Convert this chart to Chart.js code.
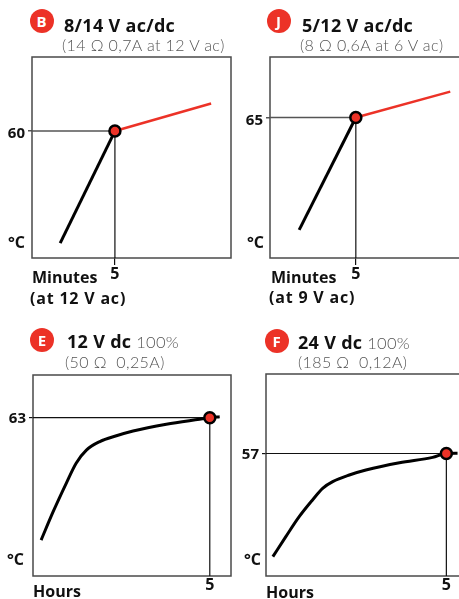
<!DOCTYPE html>
<html><head><meta charset="utf-8">
<script src="https://cdn.jsdelivr.net/npm/chart.js@4.4.0/dist/chart.umd.min.js"></script>
<style>
html,body{margin:0;padding:0;background:#fff;width:459px;height:599px;overflow:hidden;position:relative}
.t{position:absolute;white-space:pre;line-height:20px;height:20px}
.badge{position:absolute;width:24px;height:24px;border-radius:50%;background:#EC3227;color:#fff;font:700 15px 'Open Sans',sans-serif;text-align:center;line-height:24px}
.h{font:700 18px 'Open Sans',sans-serif;color:#111;letter-spacing:0.3px}
.hl{font:300 16.5px Lato,sans-serif;color:#555;letter-spacing:0.3px}
.s{font:300 16px Lato,sans-serif;color:#555;letter-spacing:0.4px}
.l{font:700 16px 'Open Sans',sans-serif;color:#111}
.l2{font:700 16px 'Open Sans',sans-serif;color:#111;letter-spacing:0.8px}
</style></head>
<body>
<script>
// ---------- data ----------
const panelIds = ['B', 'J', 'E', 'F'];
const titles = ['8/14 V ac/dc', '5/12 V ac/dc', '12 V dc', '24 V dc'];
const titleExtras = ['', '', '100%', '100%'];
const subtitles = ['(14 Ω 0,7A at 12 V ac)', '(8 Ω 0,6A at 6 V ac)', '(50 Ω  0,25A)', '(185 Ω  0,12A)'];
const xUnitLabels = [['Minutes', '(at 12 V ac)'], ['Minutes', '(at 9 V ac)'], ['Hours'], ['Hours']];
const yUnitLabel = '°C';
const markX = [5, 5, 5, 5];
const markY = [60, 65, 63, 57];
const xRanges = [[0, 12], [0, 12], [0, 5.6], [0, 5.6]];
const yRanges = [[0, 95], [0, 93], [0, 80], [0, 94]];

// B: heating (black) and holding (red)
const bHeatX = [1.7, 5];
const bHeatY = [7, 60];
const bHoldX = [5, 10.8];
const bHoldY = [60, 73];
// J
const jHeatX = [1.7, 5];
const jHeatY = [13, 65];
const jHoldX = [5, 10.5];
const jHoldY = [65, 77];
// E
const eX = [0.23, 0.57, 0.94, 1.22, 1.51, 1.89, 2.36, 2.83, 3.77, 4.71, 5, 5.28];
const eY = [14.3, 25.6, 36.9, 44.9, 50.1, 53.5, 55.8, 57.7, 60.4, 62.4, 63, 63.4];
// F
const fX = [0.19, 0.55, 0.92, 1.29, 1.57, 1.85, 2.31, 2.77, 3.7, 4.62, 5, 5.31];
const fY = [9.0, 18.3, 27.6, 35.4, 40.8, 43.9, 47.0, 49.3, 52.7, 55.2, 57, 57.1];

const heatSeries = [[bHeatX, bHeatY], [jHeatX, jHeatY], [eX, eY], [fX, fY]];
const holdSeries = [[bHoldX, bHoldY], [jHoldX, jHoldY], null, null];

// ---------- layout / style ----------
const RED = '#EC3227';
const layout = [
  {area: [32, 57, 231, 258], badge: [41.5, 20.5], title: [64, 22.5], sub: [62, 45], yu: [8, 241], xu: [[32, 276], [30, 297]], xTick: 7, xPad: 0, yOff: 3, hColor: '#555', hWidth: 1.5, curve: false},
  {area: [270, 57, 476, 258], badge: [278.5, 20.5], title: [302, 22.5], sub: [300, 45], yu: [247, 241], xu: [[271, 276], [269, 296]], xTick: 7, xPad: 0, yOff: 3, hColor: '#555', hWidth: 1.5, curve: false},
  {area: [33, 375, 231, 576], badge: [42, 340], title: [67, 339], sub: [65, 362], yu: [7, 558], xu: [[33, 590]], xTick: 0, xPad: 0, yOff: 1, hColor: '#111', hWidth: 1.2, curve: true},
  {area: [266, 374, 468, 576], badge: [276.5, 341], title: [298, 340], sub: [298, 362], yu: [244, 558], xu: [[266, 591]], xTick: 0, xPad: 0, yOff: 1, hColor: '#111', hWidth: 1.2, curve: true}
];

function addText(cls, text, x, yc) {
  const d = document.createElement('div');
  d.className = 't ' + cls;
  d.textContent = text;
  d.style.left = x + 'px';
  d.style.top = (yc - 10) + 'px';
  document.body.appendChild(d);
  return d;
}

const framePlugin = {
  id: 'frame',
  beforeDatasetsDraw(chart) {
    const {ctx, chartArea: a} = chart;
    ctx.save();
    ctx.strokeStyle = '#4a4a4a';
    ctx.lineWidth = 1.5;
    ctx.strokeRect(a.left, a.top, a.right - a.left, a.bottom - a.top);
    ctx.restore();
  }
};

function pts(xs, ys) { return xs.map((x, i) => ({x: x, y: ys[i]})); }

panelIds.forEach((id, i) => {
  const L = layout[i];
  const yW = 32, xH = 30, padT = 14, padR = 3;
  const left = L.area[0] - yW, top = L.area[1] - padT;
  const w = L.area[2] + padR - left, h = L.area[3] + xH - top;
  const canvas = document.createElement('canvas');
  canvas.width = w; canvas.height = h;
  canvas.style.cssText = `position:absolute;left:${left}px;top:${top}px;width:${w}px;height:${h}px`;
  document.body.appendChild(canvas);

  const mx = markX[i], my = markY[i];
  const [x0, x1] = xRanges[i];
  const [y0, y1] = yRanges[i];
  const datasets = [
    {data: [{x: mx, y: my}], showLine: false, pointRadius: 5.5, pointBackgroundColor: RED, pointBorderColor: '#000', pointBorderWidth: 2.5, order: 0},
    {data: pts(heatSeries[i][0], heatSeries[i][1]), borderColor: '#000', borderWidth: 3, pointRadius: 0, cubicInterpolationMode: L.curve ? 'monotone' : 'default', tension: 0, borderCapStyle: 'butt', order: 2},
    {data: [{x: x0, y: my}, {x: mx, y: my}], borderColor: L.hColor, borderWidth: L.hWidth, pointRadius: 0, order: 4},
    {data: [{x: mx, y: my}, {x: mx, y: y0}], borderColor: '#111', borderWidth: 1.2, pointRadius: 0, order: 4}
  ];
  if (holdSeries[i]) {
    datasets.push({data: pts(holdSeries[i][0], holdSeries[i][1]), borderColor: RED, borderWidth: 2.5, pointRadius: 0, order: 1});
  }

  new Chart(canvas, {
    type: 'line',
    data: {datasets},
    plugins: [framePlugin],
    options: {
      responsive: false, animation: false, events: [],
      layout: {autoPadding: false, padding: {left: 0, top: padT, right: padR, bottom: 0}},
      plugins: {legend: {display: false}, tooltip: {enabled: false}, title: {display: false}},
      scales: {
        x: {
          type: 'linear', min: x0, max: x1,
          afterBuildTicks: a => { a.ticks = [{value: mx}]; },
          afterFit: s => { s.height = xH; },
          grid: {display: true, drawOnChartArea: false, drawTicks: true, tickLength: L.xTick, color: '#111', lineWidth: 1.2},
          border: {display: false},
          ticks: {padding: L.xPad, color: '#111', font: {family: 'Open Sans', weight: 'bold', size: 16}, maxRotation: 0, autoSkip: false}
        },
        y: {
          type: 'linear', min: y0, max: y1,
          afterBuildTicks: a => { a.ticks = [{value: my}]; },
          afterFit: s => { s.width = yW; },
          grid: {display: true, drawOnChartArea: false, drawTicks: true, tickLength: 4, color: L.hColor, lineWidth: L.hWidth},
          border: {display: false},
          ticks: {padding: 3, labelOffset: L.yOff, color: '#111', font: {family: 'Open Sans', weight: 'bold', size: 15}, autoSkip: false}
        }
      }
    }
  });

  // texts
  const b = document.createElement('div');
  b.className = 'badge';
  b.textContent = id;
  b.style.left = (L.badge[0] - 12) + 'px';
  b.style.top = (L.badge[1] - 12) + 'px';
  document.body.appendChild(b);
  const td = addText('h', titles[i], L.title[0], L.title[1]);
  if (titleExtras[i]) {
    const sp = document.createElement('span');
    sp.className = 'hl';
    sp.textContent = ' ' + titleExtras[i];
    td.appendChild(sp);
  }
  addText('s', subtitles[i], L.sub[0], L.sub[1]);
  addText('l', yUnitLabel, L.yu[0], L.yu[1]);
  xUnitLabels[i].forEach((t, k) => addText(k === 0 ? 'l' : 'l2', t, L.xu[k][0], L.xu[k][1]));
});
</script>
</body></html>
